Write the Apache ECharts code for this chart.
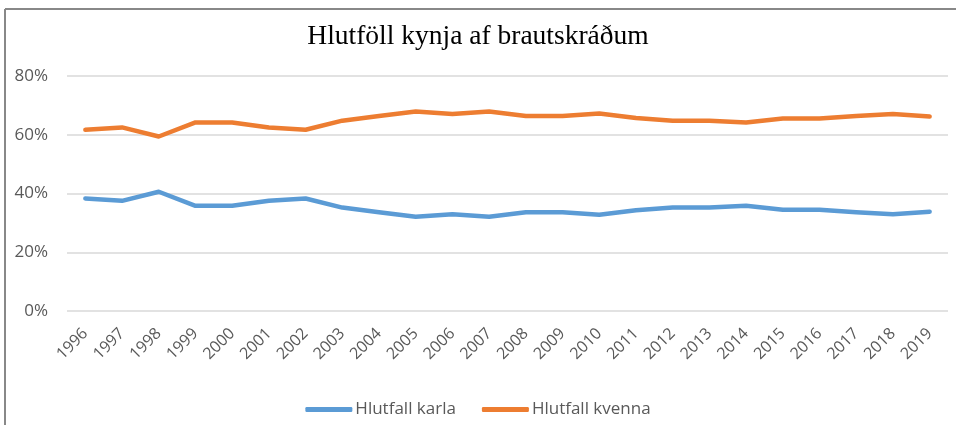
<!DOCTYPE html>
<html><head><meta charset="utf-8">
<script src="https://cdn.jsdelivr.net/npm/echarts@6/dist/echarts.min.js"></script>
<style>html,body{margin:0;padding:0;background:#fff}#c{width:956px;height:425px}</style>
</head><body><div id="c"></div>
<script>
const years = ['1996','1997','1998','1999','2000','2001','2002','2003','2004','2005','2006','2007','2008','2009','2010','2011','2012','2013','2014','2015','2016','2017','2018','2019'];
const karla = [38.3,37.5,40.6,35.8,35.8,37.5,38.3,35.2,33.6,32.1,32.9,32.1,33.6,33.6,32.8,34.3,35.2,35.2,35.8,34.5,34.5,33.6,32.9,33.8];
const kvenna = [61.7,62.5,59.4,64.2,64.2,62.5,61.7,64.8,66.4,67.9,67.1,67.9,66.4,66.4,67.2,65.7,64.8,64.8,64.2,65.5,65.5,66.4,67.1,66.2];
const yTicks = [0,20,40,60,80];
const titleText = 'Hlutföll kynja af brautskráðum';
const seriesNames = ['Hlutfall karla','Hlutfall kvenna'];

const chart = echarts.init(document.getElementById('c'), null, {renderer:'canvas'});
const lbl = {fontFamily:'"Open Sans", sans-serif', color:'#595959', fontSize:17};
chart.setOption({
  animation:false,
  title:{text:titleText,left:'center',top:18,textStyle:{fontFamily:'"Liberation Serif","Times New Roman",serif',fontWeight:'normal',fontSize:27.5,color:'#000'}},
  graphic:[
    {type:'line',shape:{x1:5,y1:9,x2:956,y2:9},style:{stroke:'#888',lineWidth:2},silent:true},
    {type:'line',shape:{x1:5,y1:9,x2:5,y2:425},style:{stroke:'#888',lineWidth:2},silent:true}
  ],
  grid:{left:67,right:8,top:76,bottom:114,containLabel:false},
  legend:{top:396,left:'center',itemWidth:47,itemHeight:5,itemGap:26,icon:'roundRect',
    textStyle:Object.assign({},lbl,{fontSize:17,padding:[0,0,0,-2]}),data:seriesNames},
  xAxis:{type:'category',data:years,boundaryGap:true,
    axisLine:{show:false},axisTick:{show:false},
    axisLabel:Object.assign({},lbl,{fontSize:16,rotate:45,interval:0,margin:20})},
  yAxis:{type:'value',min:0,max:80,interval:20,
    axisLabel:Object.assign({},lbl,{formatter:v=>yTicks.includes(v)?v+'%':'',margin:19}),
    axisLine:{show:false},axisTick:{show:false},
    splitLine:{lineStyle:{color:'#d9d9d9',width:1.5}}},
  series:[
    {name:seriesNames[0],type:'line',data:karla,symbol:'none',lineStyle:{color:'#5B9BD5',width:4.5,cap:'round',join:'round'},itemStyle:{color:'#5B9BD5'}},
    {name:seriesNames[1],type:'line',data:kvenna,symbol:'none',lineStyle:{color:'#ED7D31',width:4.5,cap:'round',join:'round'},itemStyle:{color:'#ED7D31'}}
  ]
});
</script></body></html>
